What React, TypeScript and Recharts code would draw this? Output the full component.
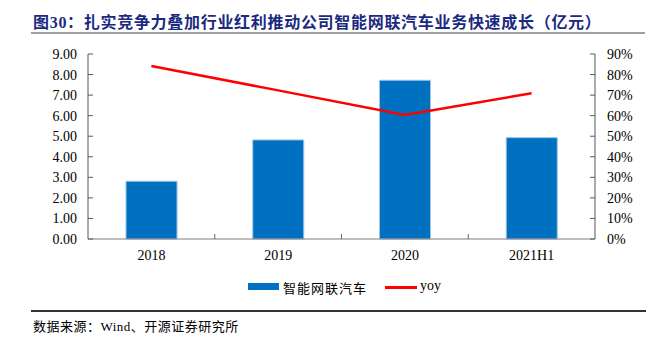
import { ComposedChart, Bar, Line, XAxis, YAxis } from 'recharts';

const categories = ['2018', '2019', '2020', '2021H1'];
const revenue = [2.81, 4.82, 7.72, 4.93];
const yoy = [0.842, 0.723, 0.603, 0.709];
const leftTicks = [0, 1, 2, 3, 4, 5, 6, 7, 8, 9];
const rightTicks = [0, 0.1, 0.2, 0.3, 0.4, 0.5, 0.6, 0.7, 0.8, 0.9];

const data = categories.map((name, i) => ({ name, revenue: revenue[i], yoy: yoy[i] }));

const SERIF = '"Liberation Serif", "Times New Roman", "Noto Sans CJK SC", serif';
const CJK = '"Liberation Serif", "Noto Sans CJK SC", serif';
const PLOT_W = 507;
const BAND = PLOT_W / categories.length;

// etiqueta del eje X + marca pequeña entre categorías
const XTick = (props: any) => {
  const { x, y, payload, index } = props;
  return (
    <g>
      <text x={x} y={y + 21} textAnchor="middle" fontSize={14} fontFamily={SERIF} fill="#000">
        {payload.value}
      </text>
      {index < categories.length - 1 && (
        <line x1={x + BAND / 2} x2={x + BAND / 2} y1={y} y2={y - 5} stroke="#666" />
      )}
    </g>
  );
};

export default function App() {
  return (
    <div
      style={{
        position: 'absolute',
        left: 0,
        top: 0,
        width: 660,
        height: 337,
        background: '#fff',
        fontFamily: CJK,
      }}
    >
      {/* Título */}
      <div
        style={{
          position: 'absolute',
          left: 33,
          top: 9,
          fontSize: 16,
          fontWeight: 'bold',
          color: '#1B2A80',
          letterSpacing: 0.7,
          whiteSpace: 'nowrap',
        }}
      >
        图30：扎实竞争力叠加行业红利推动公司智能网联汽车业务快速成长（亿元）
      </div>
      <div style={{ position: 'absolute', left: 31, top: 32, width: 614, height: 2, background: '#A0A0A0' }} />

      <div style={{ position: 'absolute', left: 0, top: 0 }}>
        <ComposedChart
          width={660}
          height={337}
          data={data}
          margin={{ top: 54, right: 5, bottom: 68, left: 28 }}
        >
          <XAxis
            dataKey="name"
            height={30}
            tickSize={0}
            tickMargin={0}
            tickLine={false}
            axisLine={{ stroke: '#7F7F7F' }}
            tick={<XTick />}
            interval={0}
          />
          <YAxis
            yAxisId="left"
            width={60}
            domain={[0, 9]}
            ticks={leftTicks}
            tickFormatter={(v: number) => v.toFixed(2)}
            tickSize={-5}
            tickMargin={16}
            axisLine={{ stroke: '#595959' }}
            tickLine={{ stroke: '#595959' }}
            tick={{ fontSize: 14, fontFamily: SERIF, fill: '#000' }}
            interval={0}
          />
          <YAxis
            yAxisId="right"
            orientation="right"
            width={60}
            domain={[0, 0.9]}
            ticks={rightTicks}
            tickFormatter={(v: number) => `${Math.round(v * 100)}%`}
            tickSize={-5}
            tickMargin={17}
            axisLine={{ stroke: '#595959' }}
            tickLine={{ stroke: '#595959' }}
            tick={{ fontSize: 14, fontFamily: SERIF, fill: '#000' }}
            interval={0}
          />
          <Bar
            yAxisId="left"
            dataKey="revenue"
            barSize={51}
            fill="#0070C0"
            stroke="#9DC3E6"
            strokeWidth={1}
            isAnimationActive={false}
          />
          <Line
            yAxisId="right"
            dataKey="yoy"
            type="linear"
            stroke="#FF0000"
            strokeWidth={2.5}
            dot={false}
            activeDot={false}
            isAnimationActive={false}
          />
        </ComposedChart>
      </div>

      {/* Leyenda */}
      <div style={{ position: 'absolute', left: 248, top: 283, width: 31, height: 7, background: '#0070C0' }} />
      <div
        style={{
          position: 'absolute',
          left: 283,
          top: 278,
          fontSize: 13,
          letterSpacing: 1,
          color: '#000',
          whiteSpace: 'nowrap',
        }}
      >
        智能网联汽车
      </div>
      <div style={{ position: 'absolute', left: 385, top: 286, width: 32, height: 2.5, background: '#FF0000' }} />
      <div style={{ position: 'absolute', left: 420, top: 278, fontSize: 14, fontFamily: SERIF, color: '#000' }}>
        yoy
      </div>

      {/* Fuente */}
      <div style={{ position: 'absolute', left: 31, top: 310, width: 615, height: 1.5, background: '#333' }} />
      <div
        style={{
          position: 'absolute',
          left: 33,
          top: 316,
          fontSize: 13,
          letterSpacing: 0.5,
          color: '#000',
          whiteSpace: 'nowrap',
        }}
      >
        数据来源：Wind、开源证券研究所
      </div>
    </div>
  );
}
